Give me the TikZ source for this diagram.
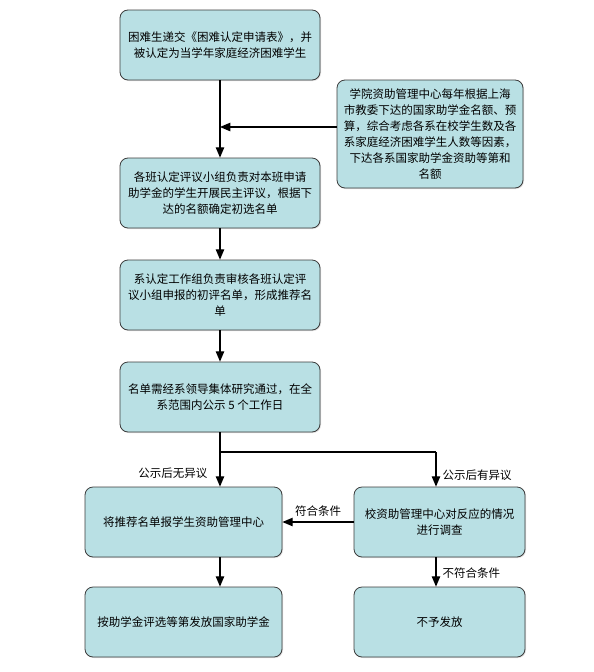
\documentclass[tikz,border=0pt]{standalone}
\usepackage{fontspec}
\newfontfamily\cjk{Noto Sans CJK SC}
\usepackage{xcolor}
\definecolor{boxfill}{RGB}{185,224,228}
\definecolor{boxline}{RGB}{60,60,60}
\usetikzlibrary{calc,positioning,arrows,shapes,shadows}
\tikzset{
    stage/.style={
    rectangle,rounded corners=8pt,draw=boxline,fill=boxfill,thick,
    minimum width=200pt,minimum height=70pt,align=center,
    font=\cjk\fontsize{11.5}{16}\selectfont,
    drop shadow={shadow xshift=1pt,shadow yshift=-1pt,opacity=0.25}
    },
  line/.style={draw, line width=1.4pt, -triangle 45},
  lab/.style={font=\cjk\fontsize{11.5}{14}\selectfont,inner sep=2pt},
}
\begin{document}
\begin{tikzpicture}[x=1pt,y=-1pt]
\useasboundingbox (0,0) rectangle (594,672);

  \node[stage] (apply) at (220,45) {困难生递交《困难认定申请表》，并\\被认定为当学年家庭经济困难学生};
  \node[stage,minimum width=186pt,minimum height=108pt] (quota) at (430,134) {学院资助管理中心每年根据上海\\市教委下达的国家助学金名额、预\\算，综合考虑各系在校学生数及各\\系家庭经济困难学生人数等因素，\\下达各系国家助学金资助等第和\\名额};
  \node[stage] (class) at (220,193) {各班认定评议小组负责对本班申请\\助学金的学生开展民主评议，根据下\\达的名额确定初选名单};
  \node[stage] (dept) at (220,295) {系认定工作组负责审核各班认定评\\议小组申报的初评名单，形成推荐名\\单};
  \node[stage] (notice) at (220,397) {名单需经系领导集体研究通过，在全\\系范围内公示 5 个工作日};
  \node[stage,minimum width=197pt] (report) at (183.5,522) {将推荐名单报学生资助管理中心};
  \node[stage,minimum width=171pt] (check) at (439.5,522) {校资助管理中心对反应的情况\\进行调查};
  \node[stage,minimum width=197pt] (grant) at (183.5,622) {按助学金评选等第发放国家助学金};
  \node[stage,minimum width=171pt] (refuse) at (439.5,622) {不予发放};

  \coordinate (qin) at ($(quota.west)+(0,-7)$);
  \coordinate (split) at (220,452);
  \coordinate (rside) at (436,452);

  \path[line] (apply) -- (class);
  \path[line] (qin) -- (qin -| apply.south);
  \path[line] (class) -- (dept);
  \path[line] (dept) -- (notice);
  \draw[line width=1.4pt] (notice) -- (split) -- (rside);
  \path[line] (split) -- node[lab,left=10pt,pos=0.6] {公示后无异议} (report.north -| split);
  \path[line] (rside) -- node[lab,right=4pt,pos=0.68] {公示后有异议} (check.north -| rside);
  \path[line] (check.west) -- node[lab,above=3pt] {符合条件} (report.east);
  \path[line] (report.south -| split) -- (grant.north -| split);
  \path[line] (check.south -| rside) -- node[lab,right=4pt,pos=0.55] {不符合条件} (refuse.north -| rside);
\end{tikzpicture}
\end{document}
